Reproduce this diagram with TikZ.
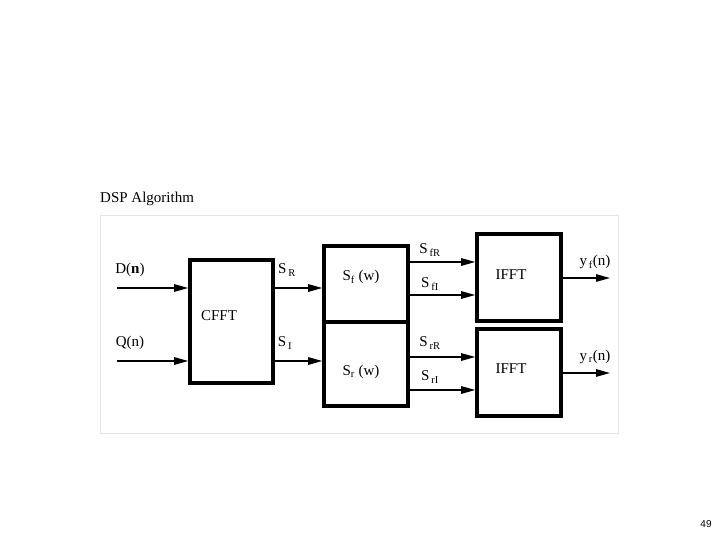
\documentclass[tikz,border=0pt]{standalone}
\usepackage{fontspec}
\setmainfont{Liberation Serif}
\newfontfamily\pagefont{Liberation Sans}
\usetikzlibrary{arrows.meta}
\tikzset{
  blk/.style={draw, line width=3.6pt, inner sep=0pt},
  arr/.style={line width=1.3pt, -{Triangle[length=14pt,width=7.5pt]}},
  lbl/.style={inner sep=0pt, font=\fontsize{15}{17}\selectfont},
}
\begin{document}
\begin{tikzpicture}[x=1pt, y=-1pt]
  \useasboundingbox (0,0) rectangle (720,540);
  % titre et cadre
  \node[lbl, anchor=west] (title) at (100,199) {DSP Algorithm};
  \draw[gray!20, line width=0.8pt] (100,215) rectangle (618,433);
  % blocs
  \node[blk, minimum width=83pt, minimum height=123pt] (cfft) at (231.5,321.5) {};
  \node[blk, minimum width=84pt, minimum height=76pt] (sf) at (366,284) {};
  \node[blk, minimum width=84pt, minimum height=84pt] (sr) at (366,364) {};
  \node[blk, minimum width=84pt, minimum height=87pt] (ifftf) at (519,277.5) {};
  \node[blk, minimum width=84pt, minimum height=87pt] (ifftr) at (519,372.5) {};
  % lignes de signal
  \coordinate (din) at (117,288);
  \coordinate (qin) at (117,361);
  \coordinate (rowfR) at (0,262);
  \coordinate (rowfI) at (0,295);
  \coordinate (rowrR) at (0,357);
  \coordinate (rowrI) at (0,390);
  \coordinate (yf) at (610,278);
  \coordinate (yr) at (610,373);
  \draw[arr] (din) -- (din -| cfft.west);
  \draw[arr] (qin) -- (qin -| cfft.west);
  \draw[arr] (cfft.east |- din) -- (sf.west |- din);
  \draw[arr] (cfft.east |- qin) -- (sr.west |- qin);
  \draw[arr] (sf.east |- rowfR) -- (ifftf.west |- rowfR);
  \draw[arr] (sf.east |- rowfI) -- (ifftf.west |- rowfI);
  \draw[arr] (sr.east |- rowrR) -- (ifftr.west |- rowrR);
  \draw[arr] (sr.east |- rowrI) -- (ifftr.west |- rowrI);
  \draw[arr] (ifftf.east |- yf) -- (yf);
  \draw[arr] (ifftr.east |- yr) -- (yr);
  % textes
  \node[lbl] (dlbl) at (130,270) {D(\textbf{n})};
  \node[lbl] (qlbl) at (130,343) {Q(n)};
  \node[lbl] (cfftlbl) at (219,316) {CFFT};
  \node[lbl] (srlbl) at (287,270) {S\textsubscript{\,R}};
  \node[lbl] (silbl) at (285,343) {S\textsubscript{\,I}};
  \node[lbl] (sflbl) at (361,277) {S\textsubscript{f} (w)};
  \node[lbl] (srwlbl) at (361,372) {S\textsubscript{r} (w)};
  \node[lbl] (sfrlbl) at (430,250) {S\textsubscript{\,fR}};
  \node[lbl] (sfilbl) at (430,284) {S\textsubscript{\,fI}};
  \node[lbl] (srrlbl) at (430,343) {S\textsubscript{\,rR}};
  \node[lbl] (srilbl) at (430,377) {S\textsubscript{\,rI}};
  \node[lbl] (iffflbl) at (511,275) {IFFT};
  \node[lbl] (iffrlbl) at (511,369) {IFFT};
  \node[lbl] (yflbl) at (595,262) {y\textsubscript{\,f}(n)};
  \node[lbl] (yrlbl) at (595,357) {y\textsubscript{\,r}(n)};
  \node[inner sep=0pt, font=\pagefont\fontsize{10}{12}\selectfont] (page) at (706,524) {49};
\end{tikzpicture}
\end{document}
